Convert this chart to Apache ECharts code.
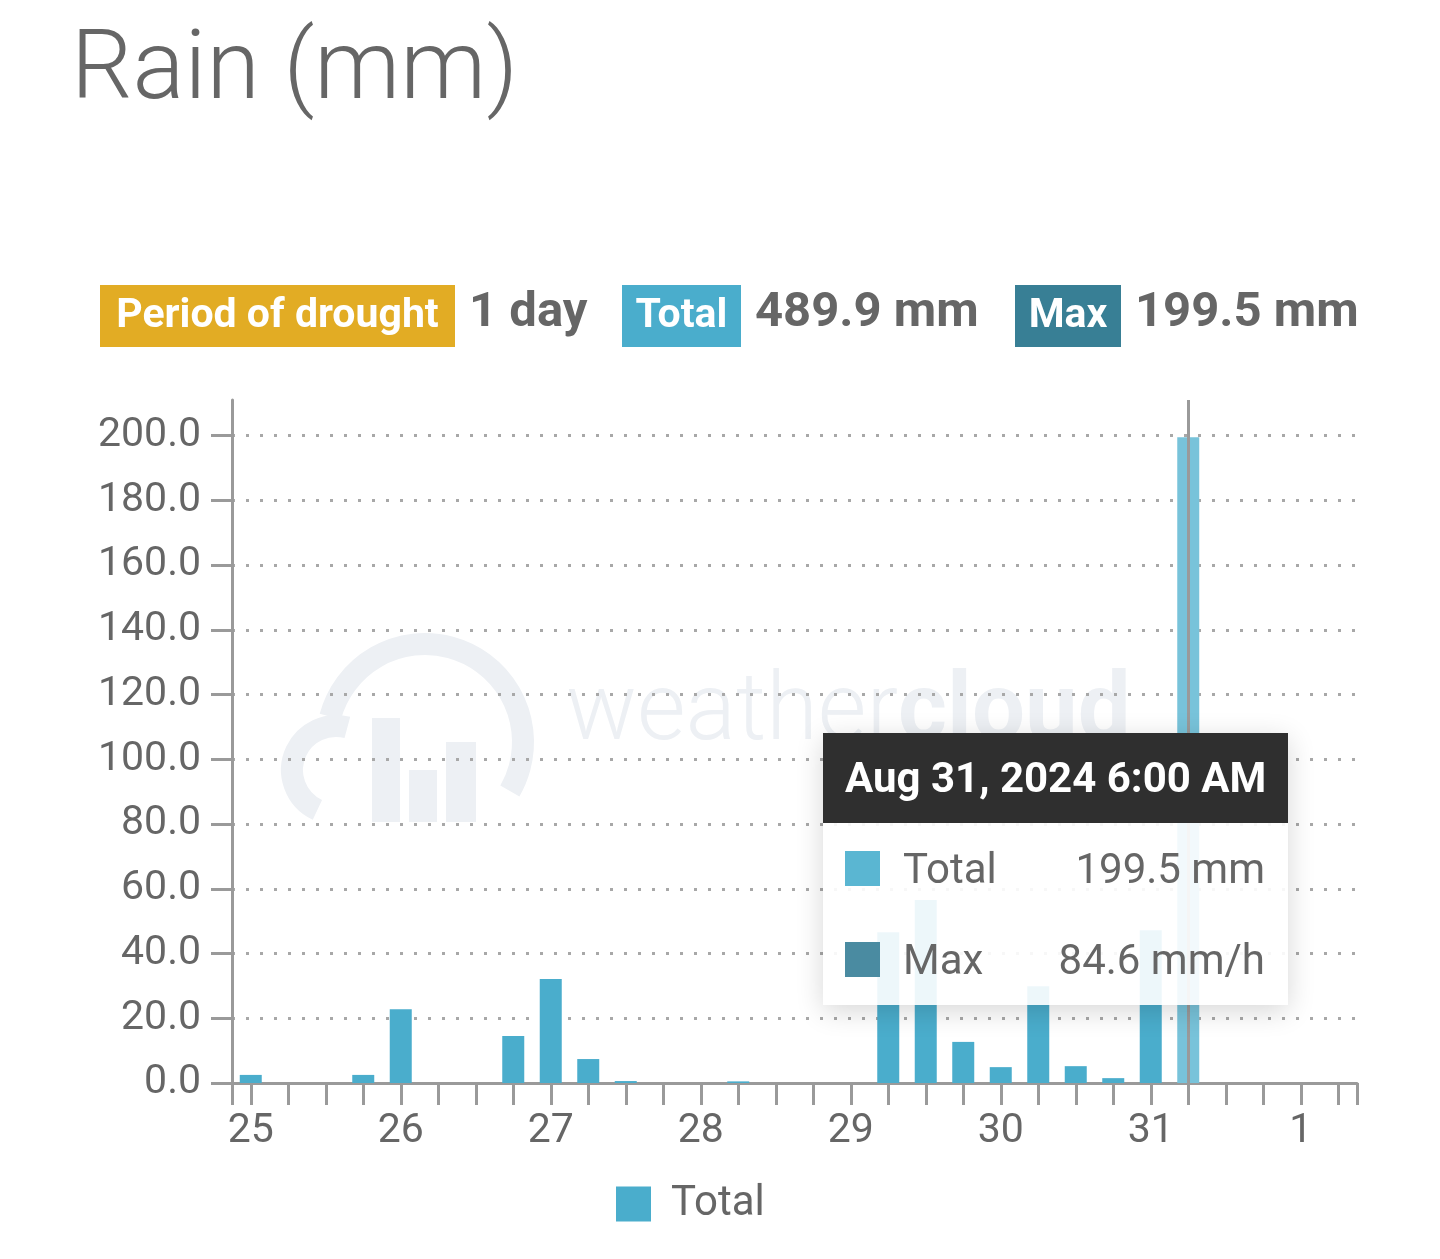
<!DOCTYPE html>
<html>
<head>
<meta charset="utf-8">
<script src="https://cdn.jsdelivr.net/npm/echarts@6/dist/echarts.min.js"></script>
<style>
html,body{margin:0;padding:0;background:#fff;}
#chart{width:1440px;height:1259px;}
</style>
</head>
<body>
<div id="chart"></div>
<script>
// ---- data ----
const categories = [
  '2024-08-25 00:00','2024-08-25 06:00','2024-08-25 12:00','2024-08-25 18:00',
  '2024-08-26 00:00','2024-08-26 06:00','2024-08-26 12:00','2024-08-26 18:00',
  '2024-08-27 00:00','2024-08-27 06:00','2024-08-27 12:00','2024-08-27 18:00',
  '2024-08-28 00:00','2024-08-28 06:00','2024-08-28 12:00','2024-08-28 18:00',
  '2024-08-29 00:00','2024-08-29 06:00','2024-08-29 12:00','2024-08-29 18:00',
  '2024-08-30 00:00','2024-08-30 06:00','2024-08-30 12:00','2024-08-30 18:00',
  '2024-08-31 00:00','2024-08-31 06:00','2024-08-31 12:00','2024-08-31 18:00',
  '2024-09-01 00:00','2024-09-01 06:00'
];
const totalRain = [
  2.5, 0, 0, 2.5,
  22.8, 0, 0, 14.5,
  32.1, 7.4, 0.6, 0,
  0, 0.5, 0, 0,
  0, 46.6, 56.5, 12.7,
  4.9, 29.9, 5.2, 1.5,
  47.2, 199.5, 0, 0,
  0, 0
];
const yTicks = { min: 0, max: 211, interval: 20 };
const tipIndex = 25;
const tipMaxRate = 84.6;        // mm/h shown in the tooltip
const summary = { drought: '1 day', total: '489.9 mm', max: '199.5 mm' };

const MONTHS = ['Jan','Feb','Mar','Apr','May','Jun','Jul','Aug','Sep','Oct','Nov','Dec'];
function dayOf(s){ return String(parseInt(s.slice(8,10),10)); }
function stamp(s){
  const y = s.slice(0,4), m = MONTHS[parseInt(s.slice(5,7),10)-1], d = parseInt(s.slice(8,10),10);
  let h = parseInt(s.slice(11,13),10); const mi = s.slice(14,16);
  const ap = h >= 12 ? 'PM' : 'AM'; h = h % 12; if (h === 0) h = 12;
  return m + ' ' + d + ', ' + y + ' ' + h + ':' + mi + ' ' + ap;
}

const FONT = 'Roboto';
const GRAY = '#666666';
const AX = '#9a9a9a';
const BAR = '#4aadcc';
const WM = '#edf0f4';

const chart = echarts.init(document.getElementById('chart'), null, {renderer:'canvas'});

function badge(x, y, w, h, color, label){
  return {
    type: 'group', x: x, y: y,
    children: [
      {type:'rect', shape:{x:0,y:0,width:w,height:h}, style:{fill:color}},
      {type:'text', x: w/2, y: h/2 + 1, style:{text: label, fill:'#fff', font:'bold 41px ' + FONT, textAlign:'center', textVerticalAlign:'middle'}}
    ]
  };
}
function valueText(x, y, label){
  return {type:'text', x:x, y:y, style:{text: label, fill: GRAY, font:'bold 49px ' + FONT, textVerticalAlign:'middle'}};
}
const D = Math.PI / 180;

const option = {
  animation: false,
  textStyle: { fontFamily: FONT },
  title: {
    text: 'Rain (mm)', left: 66, top: 20,
    textStyle: { fontFamily: FONT, fontSize: 97, fontWeight: 300, color: GRAY }
  },
  graphic: [
    // watermark
    {type:'arc', z:-10, shape:{cx:336, cy:770, r:44, startAngle:115*D, endAngle:285*D, clockwise:true},
      style:{fill:null, stroke:WM, lineWidth:22}},
    {type:'arc', z:-10, shape:{cx:425, cy:742, r:98, startAngle:195*D, endAngle:390*D, clockwise:true},
      style:{fill:null, stroke:WM, lineWidth:22}},
    {type:'rect', z:-10, shape:{x:372,y:718,width:28,height:104}, style:{fill:WM}},
    {type:'rect', z:-10, shape:{x:409,y:770,width:28,height:52}, style:{fill:WM}},
    {type:'rect', z:-10, shape:{x:446,y:742,width:30,height:80}, style:{fill:WM}},
    {type:'text', z:-10, x:566, y:762, style:{
      text:'{a|weather}{b|cloud}', textVerticalAlign:'bottom',
      rich:{a:{font:'300 94px ' + FONT, fill:WM}, b:{font:'bold 94px ' + FONT, fill:WM}}
    }},
    // summary row
    badge(100, 285, 355, 62, '#e2ac24', 'Period of drought'),
    valueText(469, 314, summary.drought),
    badge(622, 285, 119, 62, '#4aadcc', 'Total'),
    valueText(755, 314, summary.total),
    badge(1015, 285, 106, 62, '#387f95', 'Max'),
    valueText(1135, 314, summary.max)
  ],
  legend: {
    data: ['Total'], left: 611, top: 1178,
    icon: 'rect', itemWidth: 35, itemHeight: 35,
    textStyle: { fontFamily: FONT, fontSize: 42, color: GRAY, padding: [0,0,0,15] }
  },
  grid: { left: 232, right: 83, top: 400, bottom: 176 },
  tooltip: {
    trigger: 'axis',
    alwaysShowContent: true,
    triggerOn: 'none',
    transitionDuration: 0,
    position: [823, 733],
    padding: 0,
    borderWidth: 0,
    borderRadius: 0,
    backgroundColor: 'rgba(255,255,255,0.9)',
    extraCssText: 'box-shadow:0 6px 26px rgba(0,0,0,0.16);border-radius:0;',
    axisPointer: { type: 'line', lineStyle: { color: '#9a9a9a', width: 3, type: 'solid' } },
    formatter: function(params){
      const p = params[0];
      const head = stamp(categories[p.dataIndex]);
      const row = (c, n, v) =>
        '<div style="height:91px;display:flex;align-items:center;padding:0 23px 0 22px;">' +
        '<span style="width:35px;height:35px;background:' + c + ';display:inline-block;"></span>' +
        '<span style="margin-left:23px;color:#666;font-size:42px;flex:1;">' + n + '</span>' +
        '<span style="color:#666;font-size:42px;">' + v + '</span></div>';
      return '<div style="width:465px;font-family:Roboto;">' +
        '<div style="background:rgba(40,40,40,0.97);color:#fff;font-weight:bold;font-size:42px;height:90px;line-height:90px;padding-left:22px;">' + head + '</div>' +
        row('#5ab6d2', 'Total', p.value.toFixed(1) + ' mm') +
        row('#4a8ba1', 'Max', tipMaxRate.toFixed(1) + ' mm/h') +
        '</div>';
    }
  },
  xAxis: [
    {
      type: 'category', data: categories, boundaryGap: true,
      axisLine: { show: true, lineStyle: { color: AX, width: 3 } },
      axisTick: { show: true, alignWithLabel: true, interval: 0, length: 22, lineStyle: { color: AX, width: 3 } },
      axisLabel: {
        interval: 0, margin: 28, fontSize: 41, color: GRAY, fontFamily: FONT,
        formatter: function(v){ return v.slice(11) === '00:00' ? dayOf(v) : ''; }
      },
      splitLine: { show: false }
    },
    {
      type: 'category', data: categories, boundaryGap: true, position: 'bottom',
      axisLine: { show: false },
      axisTick: { show: true, interval: function(i){ return i === 0; }, length: 22, lineStyle: { color: AX, width: 3 } },
      axisLabel: { show: false },
      splitLine: { show: false },
      axisPointer: { show: false }
    }
  ],
  yAxis: {
    type: 'value', min: yTicks.min, max: yTicks.max, interval: yTicks.interval,
    axisLine: { show: true, lineStyle: { color: AX, width: 3 } },
    axisTick: { show: true, length: 21, lineStyle: { color: AX, width: 3 } },
    axisLabel: {
      margin: 31, fontSize: 41, color: GRAY, fontFamily: FONT, showMaxLabel: false,
      formatter: function(v){ return v.toFixed(1); }
    },
    splitLine: { show: true, showMinLine: false, showMaxLine: false, lineStyle: { color: '#a8a8a8', width: 3, type: [3, 11] } }
  },
  series: [{
    name: 'Total', type: 'bar', xAxisIndex: 0, data: totalRain, barWidth: 22,
    itemStyle: { color: BAR },
    emphasis: { itemStyle: { color: '#78c3da' } }
  }]
};
chart.setOption(option);
chart.dispatchAction({ type: 'showTip', seriesIndex: 0, dataIndex: tipIndex });
</script>
</body>
</html>
